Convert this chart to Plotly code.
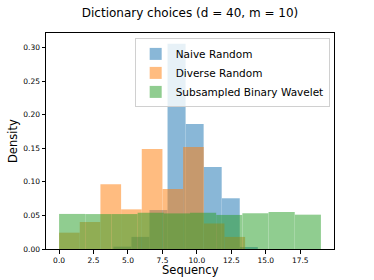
import plotly.graph_objects as go

# Histogram bin edges and densities
naive_edges = [3.94, 5.25, 6.56, 7.87, 9.18, 10.49, 11.80, 13.11, 14.42]
naive_density = [0.0035, 0.018, 0.058, 0.3055, 0.186, 0.122, 0.0755, 0.0025]

diverse_edges = [0.0, 1.5, 3.0, 4.5, 6.0, 7.5, 9.0, 10.5, 12.0, 13.5]
diverse_density = [0.0243, 0.0402, 0.0964, 0.059, 0.149, 0.0894, 0.152, 0.038, 0.018]

wavelet_edges = [0.0, 1.9, 3.8, 5.7, 7.6, 9.5, 11.4, 13.3, 15.2, 17.1, 19.0]
wavelet_density = [0.0522, 0.052, 0.052, 0.0541, 0.053, 0.054, 0.0507, 0.0532, 0.0551, 0.0511]

x_ticks = [0.0, 2.5, 5.0, 7.5, 10.0, 12.5, 15.0, 17.5]
y_ticks = [0.00, 0.05, 0.10, 0.15, 0.20, 0.25, 0.30]

series = [
    ("Naive Random", naive_edges, naive_density, "#1f77b4"),
    ("Diverse Random", diverse_edges, diverse_density, "#ff7f0e"),
    ("Subsampled Binary Wavelet", wavelet_edges, wavelet_density, "#2ca02c"),
]

fig = go.Figure()
for name, edges, dens, color in series:
    lefts = edges[:-1]
    widths = [edges[i + 1] - edges[i] for i in range(len(dens))]
    fig.add_trace(go.Bar(
        x=lefts, y=dens, width=widths, offset=0, name=name,
        marker=dict(color=color, line=dict(width=0)), opacity=0.52,
    ))

font = "DejaVu Sans"
L, R, T, B = 46, 334, 33, 249
fig.update_layout(
    width=374, height=280,
    barmode="overlay",
    plot_bgcolor="white", paper_bgcolor="white",
    margin=dict(l=L, r=374 - R, t=T, b=280 - B, autoexpand=False),
    font=dict(family=font, color="black"),
    title=dict(text="Dictionary choices (d = 40, m = 10)", x=(L + R) / 2 / 374,
               xanchor="center", y=1 - 13 / 280, yanchor="middle", font=dict(size=12, family=font)),
    showlegend=True,
    legend=dict(x=0.985, xanchor="right", y=0.975, yanchor="top",
                bgcolor="rgba(255,255,255,0.8)", bordercolor="#d0d0d0", borderwidth=1,
                font=dict(size=10.5, family=font), tracegroupgap=0, itemwidth=30),
    annotations=[
        dict(text="Sequency", xref="paper", yref="paper", x=0.5, y=0, xanchor="center",
             yanchor="middle", yshift=-21, showarrow=False, font=dict(size=11.5, family=font)),
        dict(text="Density", xref="paper", yref="paper", x=0, y=0.5, xanchor="center",
             yanchor="middle", xshift=-(L - 13), textangle=-90, showarrow=False,
             font=dict(size=11.5, family=font)),
    ],
)
fig.update_xaxes(
    range=[-0.95, 19.95], tickvals=x_ticks, ticktext=[f"{v:.1f}" for v in x_ticks],
    showgrid=False, zeroline=False, showline=True, linecolor="black", linewidth=1, mirror=True,
    ticks="outside", ticklen=3.5, tickcolor="black", tickfont=dict(size=7.5, family=font),
    automargin=False,
)
fig.update_yaxes(
    range=[0, 0.3215], tickvals=y_ticks, ticktext=[f"{v:.2f}" for v in y_ticks],
    showgrid=False, zeroline=False, showline=True, linecolor="black", linewidth=1, mirror=True,
    ticks="outside", ticklen=3.5, tickcolor="black", tickfont=dict(size=7.5, family=font),
    automargin=False,
)

fig.write_html("out.html", config={"displayModeBar": False},
               post_script="document.body.style.margin='0';document.body.style.padding='0';")
